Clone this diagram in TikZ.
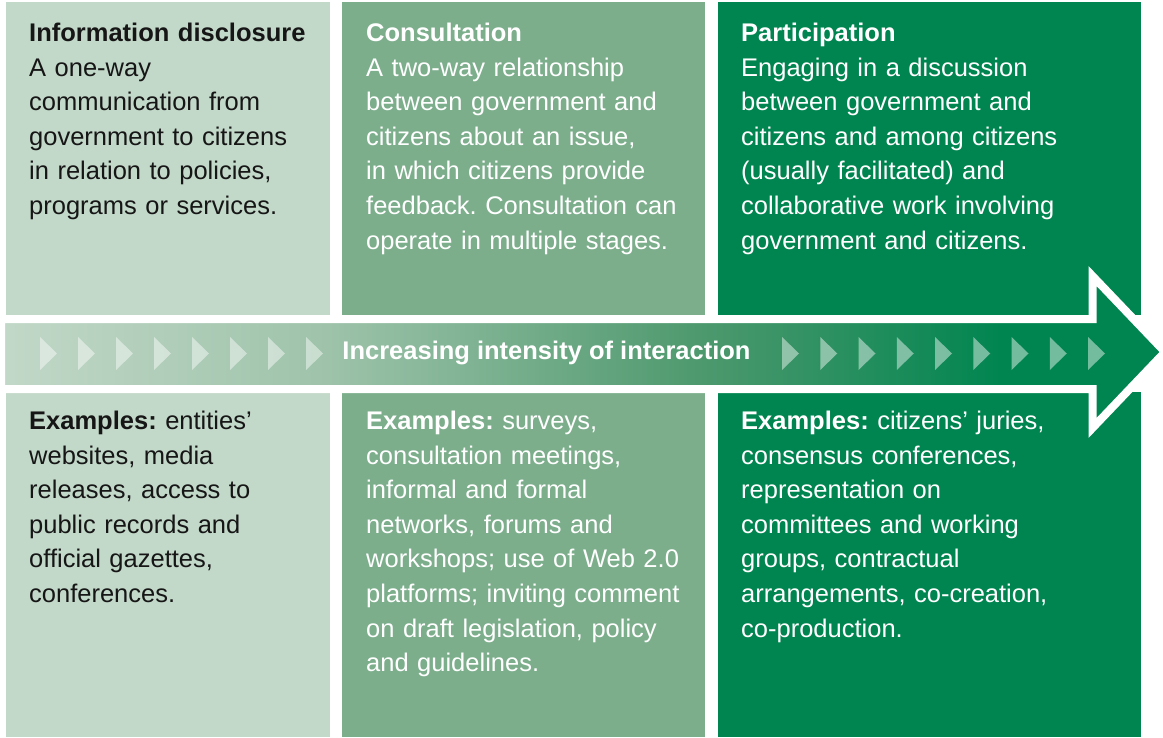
\documentclass[tikz,border=0pt]{standalone}
\usepackage{fontspec}
\setmainfont{Liberation Sans}
\usepackage{xcolor}
\usepackage{tikz}
\usetikzlibrary{calc, positioning}

\definecolor{paleGreen}{RGB}{194,216,200}
\definecolor{midGreen}{RGB}{124,174,140}
\definecolor{deepGreen}{RGB}{0,133,80}
\definecolor{bandMidA}{RGB}{158,195,170}
\definecolor{bandMidB}{RGB}{78,153,110}
\definecolor{inkGray}{RGB}{22,22,22}

\pgfdeclarehorizontalshading{bandShade}{100bp}{color(0bp)=(paleGreen); color(25bp)=(paleGreen); color(39bp)=(bandMidA); color(55bp)=(bandMidB); color(68bp)=(deepGreen); color(100bp)=(deepGreen)}

\frenchspacing

\begin{document}
\begin{tikzpicture}[x=1pt, y=-1pt,
    panelText/.style={anchor=base west, inner sep=0pt, align=left,
        font=\fontsize{25.5}{34.6}\selectfont},
    chevron/.style={fill=white, fill opacity=0.45}]

    \useasboundingbox (0,0) rectangle (1163,737);

    % =================================================================
    % CAC CO^T: KHUNG MAU PHIA TREN VA PHIA DUOI
    % =================================================================
    \fill[paleGreen] (6,2) rectangle (330,315);
    \fill[paleGreen] (6,392) rectangle (330,737);
    \fill[midGreen] (342,2) rectangle (705,315);
    \fill[midGreen] (342,392) rectangle (705,737);
    \fill[deepGreen] (718,2) rectangle (1141,315);
    \fill[deepGreen] (718,392) rectangle (1141,737);

    % =================================================================
    % MUI TEN NGANG: DAI MAU CHUYEN DAN
    % =================================================================
    \coordinate (T1) at (1092.5,319);
    \coordinate (T2) at (1092.5,276);
    \coordinate (Tip) at (1165,352);
    \coordinate (B2) at (1092.5,428);
    \coordinate (B1) at (1092.5,389);

    \path[shading=bandShade, draw=white, line width=8pt, line join=miter]
        (1,319) -- (T1) -- (T2) -- (Tip) -- (B2) -- (B1) -- (1,389) -- cycle;

    % Cac tam giac nho
    \foreach \k in {0,...,7}
        \fill[chevron] ({40+38*\k},337) -- ++(17,16.5) -- ++(-17,16.5) -- cycle;
    \foreach \k in {0,...,8}
        \fill[chevron] ({782+38.25*\k},337) -- ++(17,16.5) -- ++(-17,16.5) -- cycle;

    \node[anchor=base, inner sep=0pt, text=white,
        font=\fontsize{25.5}{30}\selectfont\bfseries] (bandText) at (546.5,359)
        {Increasing intensity of interaction};

    % =================================================================
    % CHU: HANG TREN
    % =================================================================
    \node[panelText, text=inkGray, text width=295pt] (infoTop) at (29,41.5)
        {\textbf{Information disclosure}\\
         A one-way\\
         communication from\\
         government to citizens\\
         in relation to policies,\\
         programs or services.};

    \node[panelText, text=white, text width=330pt] (consTop) at (366,41.5)
        {\textbf{Consultation}\\
         A two-way relationship\\
         between government and\\
         citizens about an issue,\\
         in which citizens provide\\
         feedback. Consultation can\\
         operate in multiple stages.};

    \node[panelText, text=white, text width=390pt] (partTop) at (741,41.5)
        {\textbf{Participation}\\
         Engaging in a discussion\\
         between government and\\
         citizens and among citizens\\
         (usually facilitated) and\\
         collaborative work involving\\
         government and citizens.};

    % =================================================================
    % CHU: HANG DUOI (VI DU)
    % =================================================================
    \node[panelText, text=inkGray, text width=295pt] (infoEx) at (29,429.5)
        {\textbf{Examples:} entities’\\
         websites, media\\
         releases, access to\\
         public records and\\
         official gazettes,\\
         conferences.};

    \node[panelText, text=white, text width=330pt] (consEx) at (366,429.5)
        {\textbf{Examples:} surveys,\\
         consultation meetings,\\
         informal and formal\\
         networks, forums and\\
         workshops; use of Web 2.0\\
         platforms; inviting comment\\
         on draft legislation, policy\\
         and guidelines.};

    \node[panelText, text=white, text width=390pt] (partEx) at (741,429.5)
        {\textbf{Examples:} citizens’ juries,\\
         consensus conferences,\\
         representation on\\
         committees and working\\
         groups, contractual\\
         arrangements, co-creation,\\
         co-production.};

\end{tikzpicture}
\end{document}
